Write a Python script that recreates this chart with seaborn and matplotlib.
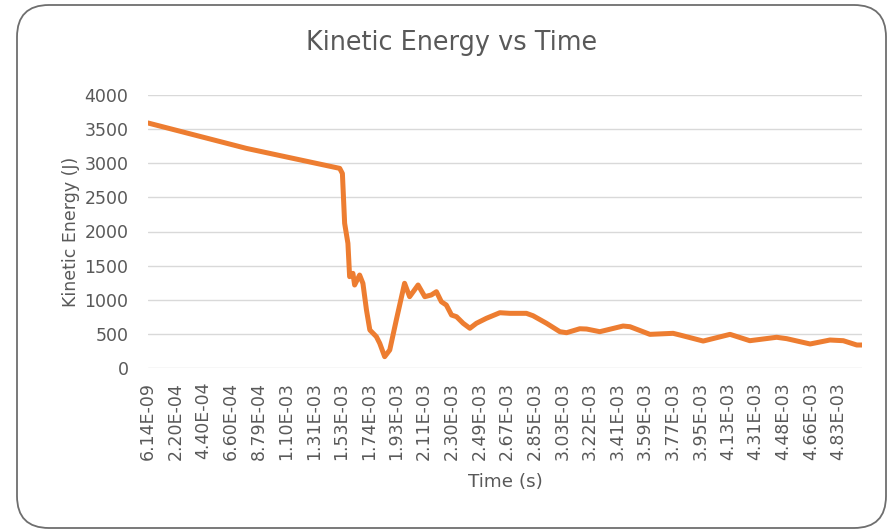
import numpy as np
import pandas as pd
import matplotlib
matplotlib.use("Agg")
import matplotlib.pyplot as plt
from matplotlib.patches import FancyBboxPatch
import seaborn as sns

# ---- data ----
tick_labels = ["6.14E-09", "2.20E-04", "4.40E-04", "6.60E-04", "8.79E-04",
               "1.10E-03", "1.31E-03", "1.53E-03", "1.74E-03", "1.93E-03",
               "2.11E-03", "2.30E-03", "2.49E-03", "2.67E-03", "2.85E-03",
               "3.03E-03", "3.22E-03", "3.41E-03", "3.59E-03", "3.77E-03",
               "3.95E-03", "4.13E-03", "4.31E-03", "4.48E-03", "4.66E-03",
               "4.83E-03"]
tick_times = [float(s) for s in tick_labels]
next_tick_time = 5.01e-3  # category spacing continues past last label

time_s = [6.14e-9, 7.83e-4, 1.517e-3, 1.538e-3, 1.555e-3, 1.580e-3, 1.593e-3,
          1.618e-3, 1.631e-3, 1.669e-3, 1.694e-3, 1.721e-3, 1.746e-3, 1.791e-3,
          1.814e-3, 1.848e-3, 1.883e-3, 1.928e-3, 1.982e-3, 2.015e-3, 2.070e-3,
          2.114e-3, 2.159e-3, 2.194e-3, 2.228e-3, 2.262e-3, 2.298e-3, 2.332e-3,
          2.378e-3, 2.424e-3, 2.469e-3, 2.535e-3, 2.623e-3, 2.688e-3, 2.796e-3,
          2.839e-3, 2.927e-3, 3.014e-3, 3.059e-3, 3.150e-3, 3.197e-3, 3.288e-3,
          3.446e-3, 3.491e-3, 3.621e-3, 3.772e-3, 3.817e-3, 3.968e-3, 4.143e-3,
          4.272e-3, 4.439e-3, 4.502e-3, 4.655e-3, 4.777e-3, 4.861e-3, 4.949e-3,
          4.983e-3]
kinetic_energy_J = [3590, 3218, 2925, 2850, 2120, 1826, 1338,
                    1387, 1216, 1362, 1240, 850, 557, 459,
                    362, 166, 264, 703, 1241, 1045, 1216,
                    1045, 1070, 1118, 971, 923, 776, 752,
                    655, 582, 655, 728, 810, 801, 801,
                    766, 655, 532, 517, 575, 571, 532,
                    615, 605, 493, 508, 483, 395, 493,
                    400, 450, 430, 352, 410, 400, 337,
                    337]

# ---- category-axis positions (Excel style) ----
cat_times = tick_times + [next_tick_time]
pos = np.interp(time_s, cat_times, np.arange(len(cat_times)))
df = pd.DataFrame({"pos": pos, "ke": kinetic_energy_J})

sns.set_theme(style="white")
plt.rcParams["font.family"] = ["DejaVu Sans"]
txt = "#595959"

fig = plt.figure(figsize=(8.89, 5.30), dpi=100)
fig.patch.set_facecolor("white")
ax = fig.add_axes([148 / 889, 1 - 368 / 530, (862 - 148) / 889, (368 - 95) / 530])

sns.lineplot(data=df, x="pos", y="ke", ax=ax, color="#ED7D31", linewidth=3.6,
             sort=False, solid_joinstyle="round", solid_capstyle="round")

ax.set_xlim(pos.min(), pos.max())
ax.set_ylim(0, 4000)
ax.set_yticks(np.arange(0, 4001, 500))
ax.set_xticks(np.arange(len(tick_labels)))
ax.set_xticklabels(tick_labels, rotation=90)
ax.tick_params(axis="both", length=0, colors=txt, labelsize=12.5)
ax.tick_params(axis="y", pad=14)
ax.tick_params(axis="x", pad=10)
ax.yaxis.grid(True, color="#D9D9D9", linewidth=1.0)
ax.xaxis.grid(False)
ax.set_axisbelow(True)
for s in ax.spines.values():
    s.set_visible(False)

ax.set_xlabel("Time (s)", fontsize=13.2, color=txt)
ax.set_ylabel("Kinetic Energy (J)", fontsize=12.5, color=txt)
ax.xaxis.set_label_coords(0.5, -0.385)
ax.yaxis.set_label_coords(-0.095, 0.5)

fig.text(452 / 889, 1 - 43 / 530, "Kinetic Energy vs Time", ha="center",
         va="center", fontsize=18.4, color=txt)

border = FancyBboxPatch((17, 2), 869, 523,
                        boxstyle="round,pad=0,rounding_size=32",
                        transform=None, facecolor="none",
                        edgecolor="#6e6e6e", linewidth=1.3)
fig.patches.append(border)

fig.savefig("out.png", dpi=100)
